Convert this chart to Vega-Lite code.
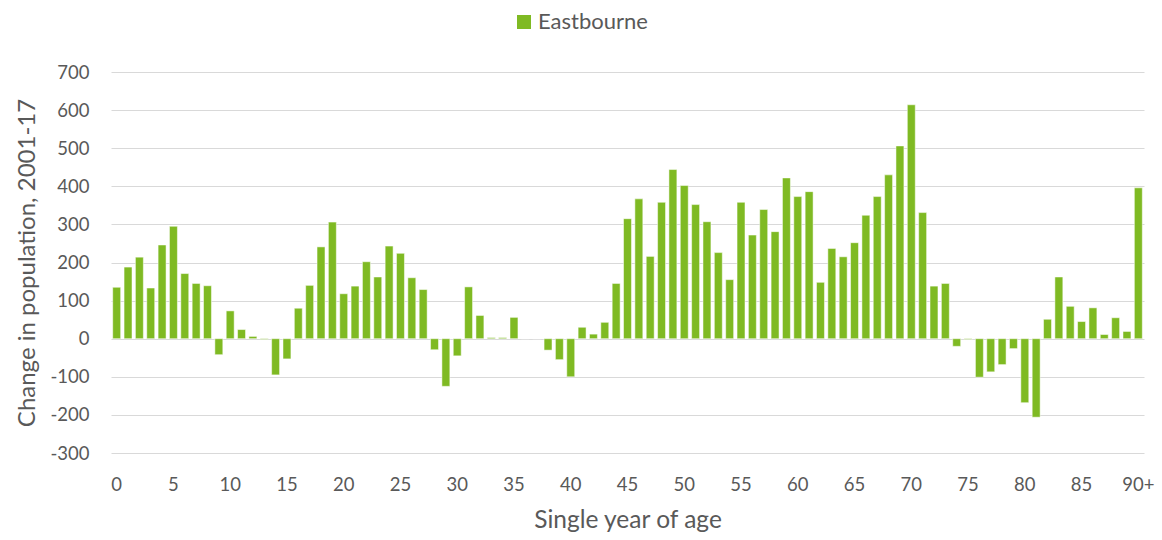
{
  "$schema": "https://vega.github.io/schema/vega-lite/v6.json",
  "width": 1033,
  "height": 381,
  "autosize": {"type": "none"},
  "padding": {"left": 111, "top": 72, "right": 18, "bottom": 87},
  "background": "white",
  "config": {"view": {"stroke": null}, "font": "Lato"},
  "data": {
    "values": [
      {"age": "0", "value": 135}, {"age": "1", "value": 188}, {"age": "2", "value": 214}, {"age": "3", "value": 133},
      {"age": "4", "value": 246}, {"age": "5", "value": 295}, {"age": "6", "value": 171}, {"age": "7", "value": 145},
      {"age": "8", "value": 139}, {"age": "9", "value": -42}, {"age": "10", "value": 73}, {"age": "11", "value": 24},
      {"age": "12", "value": 6}, {"age": "13", "value": -2}, {"age": "14", "value": -95}, {"age": "15", "value": -53},
      {"age": "16", "value": 80}, {"age": "17", "value": 140}, {"age": "18", "value": 241}, {"age": "19", "value": 306},
      {"age": "20", "value": 118}, {"age": "21", "value": 138}, {"age": "22", "value": 202}, {"age": "23", "value": 162},
      {"age": "24", "value": 243}, {"age": "25", "value": 224}, {"age": "26", "value": 160}, {"age": "27", "value": 129},
      {"age": "28", "value": -29}, {"age": "29", "value": -125}, {"age": "30", "value": -45}, {"age": "31", "value": 136},
      {"age": "32", "value": 61}, {"age": "33", "value": 3}, {"age": "34", "value": 3}, {"age": "35", "value": 56},
      {"age": "36", "value": 0}, {"age": "37", "value": 0}, {"age": "38", "value": -30}, {"age": "39", "value": -55},
      {"age": "40", "value": -100}, {"age": "41", "value": 30}, {"age": "42", "value": 12}, {"age": "43", "value": 43},
      {"age": "44", "value": 145}, {"age": "45", "value": 315}, {"age": "46", "value": 367}, {"age": "47", "value": 216},
      {"age": "48", "value": 358}, {"age": "49", "value": 444}, {"age": "50", "value": 402}, {"age": "51", "value": 352},
      {"age": "52", "value": 307}, {"age": "53", "value": 226}, {"age": "54", "value": 155}, {"age": "55", "value": 358},
      {"age": "56", "value": 272}, {"age": "57", "value": 339}, {"age": "58", "value": 281}, {"age": "59", "value": 422},
      {"age": "60", "value": 373}, {"age": "61", "value": 386}, {"age": "62", "value": 148}, {"age": "63", "value": 237},
      {"age": "64", "value": 215}, {"age": "65", "value": 252}, {"age": "66", "value": 324}, {"age": "67", "value": 373},
      {"age": "68", "value": 430}, {"age": "69", "value": 506}, {"age": "70", "value": 614}, {"age": "71", "value": 331},
      {"age": "72", "value": 138}, {"age": "73", "value": 145}, {"age": "74", "value": -20}, {"age": "75", "value": -2},
      {"age": "76", "value": -101}, {"age": "77", "value": -87}, {"age": "78", "value": -68}, {"age": "79", "value": -26},
      {"age": "80", "value": -168}, {"age": "81", "value": -206}, {"age": "82", "value": 51}, {"age": "83", "value": 162},
      {"age": "84", "value": 85}, {"age": "85", "value": 45}, {"age": "86", "value": 81}, {"age": "87", "value": 11},
      {"age": "88", "value": 55}, {"age": "89", "value": 19}, {"age": "90+", "value": 396}
    ]
  },
  "mark": {"type": "bar", "stroke": "white", "strokeWidth": 0.5},
  "encoding": {
    "x": {
      "field": "age",
      "type": "ordinal",
      "sort": null,
      "scale": {"paddingInner": 0.3, "paddingOuter": 0.15},
      "axis": {
        "values": ["0", "5", "10", "15", "20", "25", "30", "35", "40", "45", "50", "55", "60", "65", "70", "75", "80", "85", "90+"],
        "labelAngle": 0,
        "ticks": false,
        "domain": false,
        "grid": false,
        "labelFont": "Lato",
        "labelFontSize": 18.5,
        "labelColor": "#595959",
        "labelPadding": 22,
        "title": "Single year of age",
        "titleFont": "Lato",
        "titleFontSize": 24.5,
        "titleFontWeight": "normal",
        "titleColor": "#595959",
        "titlePadding": 15
      }
    },
    "y": {
      "field": "value",
      "type": "quantitative",
      "scale": {"domain": [-300, 700], "nice": false},
      "axis": {
        "values": [-300, -200, -100, 0, 100, 200, 300, 400, 500, 600, 700],
        "labelExpr": "'' + datum.value",
        "grid": true,
        "gridColor": "#d9d9d9",
        "gridWidth": 1,
        "domain": false,
        "ticks": false,
        "labelFont": "Lato",
        "labelFontSize": 18.5,
        "labelColor": "#595959",
        "labelPadding": 22,
        "title": "Change in population, 2001-17",
        "titleFont": "Lato",
        "titleFontSize": 24,
        "titleFontWeight": "normal",
        "titleColor": "#595959",
        "titlePadding": 10
      }
    },
    "color": {
      "datum": "Eastbourne",
      "type": "nominal",
      "scale": {"range": ["#7FBA23"]},
      "legend": {
        "orient": "none",
        "legendX": 402,
        "legendY": -61,
        "title": null,
        "symbolType": "square",
        "symbolSize": 196,
        "symbolStrokeWidth": 0,
        "labelFont": "Lato",
        "labelFontSize": 22,
        "labelColor": "#595959",
        "labelOffset": 3
      }
    }
  }
}
